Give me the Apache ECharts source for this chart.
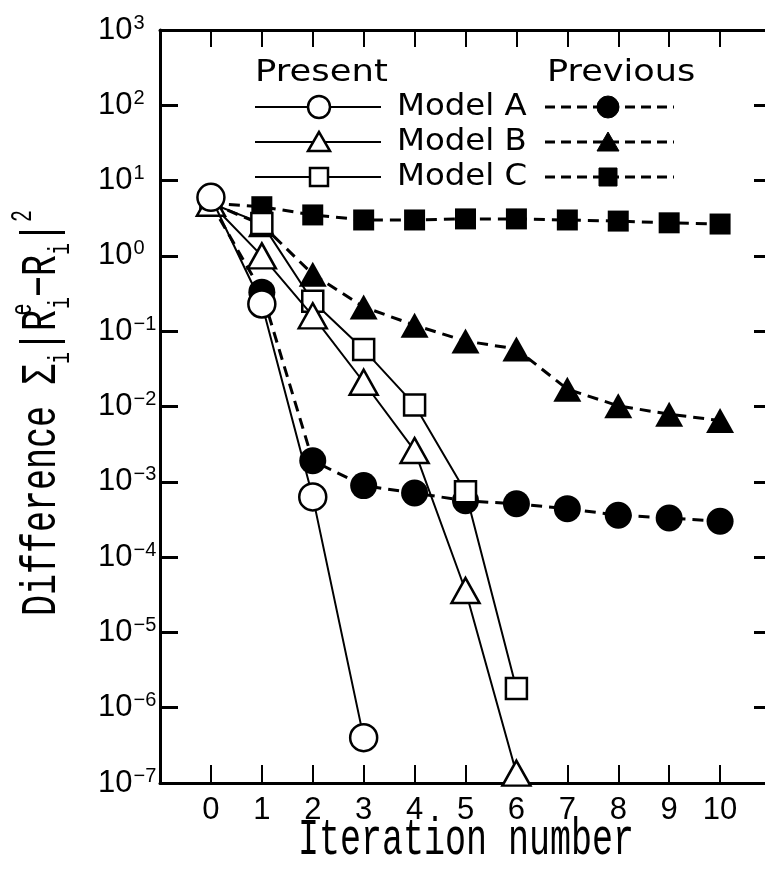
<!DOCTYPE html>
<html><head><meta charset="utf-8">
<script src="https://cdn.jsdelivr.net/npm/echarts@6/dist/echarts.min.js"></script>
<style>html,body{margin:0;padding:0;background:#fff}#c{width:765px;height:879px}</style>
</head><body><div id="c"></div>
<script>
// ---- data ----
const iterations = [0, 1, 2, 3, 4, 5, 6, 7, 8, 9, 10];
const presentA  = [6.0, 0.23, 6.3e-4, 4.0e-7];
const presentB  = [5.0, 1.0, 0.16, 0.021, 2.6e-3, 3.6e-5, 1.35e-7];
const presentC  = [5.0, 2.7, 0.25, 0.057, 0.0105, 7.4e-4, 1.8e-6];
const previousA = [5.0, 0.33, 1.9e-3, 8.9e-4, 7.1e-4, 5.6e-4, 5.1e-4, 4.4e-4, 3.6e-4, 3.3e-4, 3.0e-4];
const previousB = [5.0, 2.6, 0.57, 0.21, 0.12, 0.074, 0.058, 0.017, 0.0102, 0.0079, 0.0065];
const previousC = [5.0, 4.5, 3.5, 3.0, 3.0, 3.1, 3.1, 3.0, 2.9, 2.75, 2.65];
const xTickLabels = ['0', '1', '2', '3', '4', '5', '6', '7', '8', '9', '10'];
const yTickExponents = [-7, -6, -5, -4, -3, -2, -1, 0, 1, 2, 3];
const modelNames = ['Model A', 'Model B', 'Model C'];
const groupNames = ['Present', 'Previous'];
const xTitle = 'Iteration number';

// ---- build ----
const chart = echarts.init(document.getElementById('c'), null, {renderer: 'canvas'});
const BLACK = '#000';
const SANS = '"DejaVu Sans"';
const MONO = '"Liberation Mono"';

function pairs(vals, noFirstSymbol) {
  return vals.map((v, i) => noFirstSymbol && i === 0
    ? {value: [iterations[i], v], symbol: 'none'}
    : [iterations[i], v]);
}
const shapes = ['circle', 'triangle', 'rect'];
const openSizes = [27, [28, 25], 21];
const filledSizes = [27, [28, 25], 21];

const series = [];
[previousC, previousB, previousA].forEach((vals, k) => {
  const idx = 2 - k;
  series.push({
    name: groupNames[1] + ' ' + modelNames[idx], type: 'line', data: pairs(vals, true),
    symbol: shapes[idx], symbolSize: filledSizes[idx], showSymbol: true,
    itemStyle: {color: BLACK, borderWidth: 0},
    lineStyle: {color: BLACK, width: 3, type: [11, 7]},
    z: 2 + k, silent: true, animation: false, clip: false
  });
});
[presentC, presentB, presentA].forEach((vals, k) => {
  const idx = 2 - k;
  series.push({
    name: groupNames[0] + ' ' + modelNames[idx], type: 'line', data: pairs(vals, false),
    symbol: shapes[idx], symbolSize: openSizes[idx], showSymbol: true,
    itemStyle: {color: '#fff', borderColor: BLACK, borderWidth: 2.5},
    lineStyle: {color: BLACK, width: 2, type: 'solid'},
    z: 6 + k, silent: true, animation: false, clip: false
  });
});

// legend drawn with graphic elements
const legendG = [];
const rowsY = [107, 142, 177];
legendG.push({type: 'text', x: 255, y: 73, scaleX: 1.18,
  style: {text: groupNames[0], font: '30px ' + SANS, fill: BLACK, align: 'left', verticalAlign: 'middle'}});
legendG.push({type: 'text', x: 547, y: 73, scaleX: 1.17,
  style: {text: groupNames[1], font: '30px ' + SANS, fill: BLACK, align: 'left', verticalAlign: 'middle'}});
function legendSymbol(kind, cx, cy, filled) {
  const st = filled ? {fill: BLACK, stroke: BLACK, lineWidth: 1} : {fill: '#fff', stroke: BLACK, lineWidth: 2.5};
  if (kind === 0) return {type: 'circle', shape: {cx: cx, cy: cy, r: 11}, style: st, z: 20};
  if (kind === 1) return {type: 'polygon', shape: {points: [[cx, cy - 10], [cx - 11, cy + 9], [cx + 11, cy + 9]]}, style: st, z: 20};
  return {type: 'rect', shape: {x: cx - 9, y: cy - 9, width: 18, height: 18}, style: st, z: 20};
}
rowsY.forEach((y, i) => {
  legendG.push({type: 'line', shape: {x1: 255, y1: y, x2: 381, y2: y}, style: {stroke: BLACK, lineWidth: 2}, z: 19});
  legendG.push(legendSymbol(i, 319, y, false));
  legendG.push({type: 'text', x: 397, y: y, scaleX: 1.08,
    style: {text: modelNames[i], font: '30px ' + SANS, fill: BLACK, align: 'left', verticalAlign: 'middle'}});
  legendG.push({type: 'line', shape: {x1: 545, y1: y, x2: 674, y2: y}, style: {stroke: BLACK, lineWidth: 3, lineDash: [10, 6]}, z: 19});
  legendG.push(legendSymbol(i, 608, y, true));
});

// axis titles
legendG.push({type: 'text', x: 466, y: 840, scaleY: 1.5,
  style: {text: xTitle, font: '35px ' + MONO, fill: BLACK, align: 'center', verticalAlign: 'middle'}});
legendG.push({type: 'text', x: 42, y: 413, rotation: Math.PI / 2, scaleY: 1.45,
  style: {
    text: '{t|Difference Σ}{sub|i}{t||R}{sup1|e}{sub|i}{t|−R}{sub|i}{t||}{sup|2}',
    align: 'center', verticalAlign: 'middle',
    rich: {
      t: {fontSize: 35, fontFamily: 'Liberation Mono', lineHeight: 46, fill: BLACK},
      sub: {fontSize: 20, fontFamily: 'Liberation Mono', lineHeight: 20, verticalAlign: 'bottom', fill: BLACK},
      sup: {fontSize: 20, fontFamily: 'Liberation Mono', lineHeight: 20, verticalAlign: 'top', fill: BLACK},
      sup1: {fontSize: 20, fontFamily: 'Liberation Mono', lineHeight: 20, verticalAlign: 'top', width: 1, fill: BLACK}
    }
  }});

const xCommon = {type: 'value', min: -1, max: 11, interval: 1};
const yCommon = {type: 'log', logBase: 10, min: Math.pow(10, yTickExponents[0]),
  max: Math.pow(10, yTickExponents[yTickExponents.length - 1]), interval: 1, splitNumber: 10};

chart.setOption({
  animation: false,
  backgroundColor: '#fff',
  grid: {left: 160, top: 30, width: 611, height: 753, containLabel: false, outerBoundsMode: 'none'},
  xAxis: [
    Object.assign({}, xCommon, {position: 'bottom',
      axisLine: {show: true, onZero: false, lineStyle: {color: BLACK, width: 3}},
      axisTick: {show: true, inside: true, length: 18, lineStyle: {color: BLACK, width: 2}},
      axisLabel: {show: true, margin: 12, color: BLACK, fontSize: 31, fontFamily: 'Liberation Sans',
        formatter: v => (v >= 0 && v <= 10) ? xTickLabels[Math.round(v)] : ''},
      splitLine: {show: false}}),
    Object.assign({}, xCommon, {position: 'top',
      axisLine: {show: true, onZero: false, lineStyle: {color: BLACK, width: 3}},
      axisTick: {show: true, inside: true, length: 17, lineStyle: {color: BLACK, width: 2}},
      axisLabel: {show: false}, splitLine: {show: false}})
  ],
  yAxis: [
    Object.assign({}, yCommon, {position: 'left',
      axisLine: {show: true, onZero: false, lineStyle: {color: BLACK, width: 3}},
      axisTick: {show: true, inside: true, length: 18, lineStyle: {color: BLACK, width: 3}},
      minorTick: {show: false},
      axisLabel: {show: true, margin: 62, align: 'left',
        formatter: v => {
          const e = Math.round(Math.log10(v));
          return '{b|10}{s|' + (e < 0 ? '−' + (-e) : String(e)) + '}';
        },
        rich: {
          b: {fontSize: 31, fontFamily: 'Liberation Sans', color: BLACK, lineHeight: 34},
          s: {fontSize: 20, fontFamily: 'Liberation Sans', color: BLACK, lineHeight: 20, verticalAlign: 'top', padding: [0, 0, 0, 1]}
        }},
      splitLine: {show: false}}),
    Object.assign({}, yCommon, {position: 'right',
      axisLine: {show: false, onZero: false},
      axisTick: {show: true, inside: true, length: 17, lineStyle: {color: BLACK, width: 3}},
      axisLabel: {show: false}, splitLine: {show: false}})
  ],
  series: series,
  graphic: {elements: legendG}
});
</script></body></html>
